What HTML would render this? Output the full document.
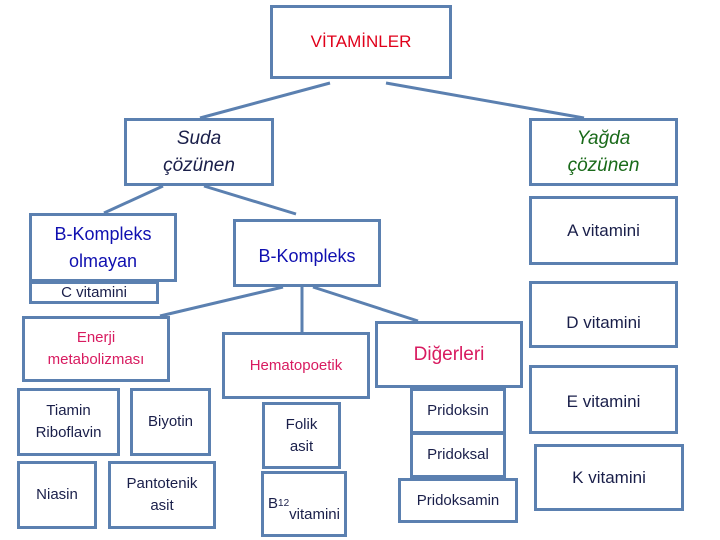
<!DOCTYPE html>
<html><head><meta charset="utf-8"><style>
body{margin:0;width:720px;height:540px;background:#fff;position:relative;overflow:hidden;font-family:"Liberation Sans",sans-serif}
.b{position:absolute;box-sizing:border-box;border:3px solid #5b80b0;background:#fff;display:flex;align-items:center;justify-content:center;text-align:center;font-size:17px;line-height:24px;color:#1a1f4a}
svg{position:absolute;left:0;top:0}
</style></head><body>
<svg width="720" height="540"><g stroke="#5b80b0" stroke-width="3" fill="none">
<line x1="330" y1="83" x2="200" y2="118"/>
<line x1="386" y1="83" x2="584" y2="118"/>
<line x1="163" y1="186" x2="104" y2="213"/>
<line x1="204" y1="186" x2="296" y2="214"/>
<line x1="283" y1="287" x2="160" y2="316"/>
<line x1="302" y1="287" x2="302" y2="332"/>
<line x1="313" y1="287" x2="418" y2="321"/>
</g></svg>
<div class="b" style="left:270px;top:5px;width:182px;height:74px;color:#e0001a">VİTAMİNLER</div>
<div class="b" style="left:124px;top:118px;width:150px;height:68px;font-style:italic;font-size:19px;line-height:27px">Suda<br>çözünen</div>
<div class="b" style="left:529px;top:118px;width:149px;height:68px;font-style:italic;font-size:19px;line-height:27px;color:#1a6a1a">Yağda<br>çözünen</div>
<div class="b" style="left:529px;top:196px;width:149px;height:69px;align-items:flex-start;padding-top:20px">A vitamini</div>
<div class="b" style="left:529px;top:281px;width:149px;height:67px;align-items:flex-end;padding-bottom:10px">D vitamini</div>
<div class="b" style="left:29px;top:213px;width:148px;height:69px;color:#1010b0;font-size:18px;line-height:27px">B-Kompleks<br>olmayan</div>
<div class="b" style="left:29px;top:281px;width:130px;height:23px;font-size:15px">C vitamini</div>
<div class="b" style="left:233px;top:219px;width:148px;height:68px;color:#1010b0;font-size:18px;padding-top:6px">B-Kompleks</div>
<div class="b" style="left:22px;top:316px;width:148px;height:66px;color:#d81b60;font-size:15px;line-height:22px">Enerji<br>metabolizması</div>
<div class="b" style="left:222px;top:332px;width:148px;height:67px;color:#d81b60;font-size:15px">Hematopoetik</div>
<div class="b" style="left:375px;top:321px;width:148px;height:67px;color:#d81b60;font-size:19px">Diğerleri</div>
<div class="b" style="left:17px;top:388px;width:103px;height:68px;font-size:15px;line-height:22px">Tiamin<br>Riboflavin</div>
<div class="b" style="left:130px;top:388px;width:81px;height:68px;font-size:15px">Biyotin</div>
<div class="b" style="left:17px;top:461px;width:80px;height:68px;font-size:15px">Niasin</div>
<div class="b" style="left:108px;top:461px;width:108px;height:68px;font-size:15px;line-height:22px">Pantotenik<br>asit</div>
<div class="b" style="left:262px;top:402px;width:79px;height:67px;font-size:15px;line-height:22px">Folik<br>asit</div>
<div class="b" style="left:261px;top:471px;width:86px;height:66px;font-size:15px;line-height:22px">B<sub style="font-size:10px;line-height:0">12</sub><br>vitamini</div>
<div class="b" style="left:410px;top:388px;width:96px;height:46px;font-size:15px">Pridoksin</div>
<div class="b" style="left:410px;top:432px;width:96px;height:46px;font-size:15px">Pridoksal</div>
<div class="b" style="left:398px;top:478px;width:120px;height:45px;font-size:15px">Pridoksamin</div>
<div class="b" style="left:529px;top:365px;width:149px;height:69px;align-items:flex-start;padding-top:22px">E vitamini</div>
<div class="b" style="left:534px;top:444px;width:150px;height:67px">K vitamini</div>
</body></html>
